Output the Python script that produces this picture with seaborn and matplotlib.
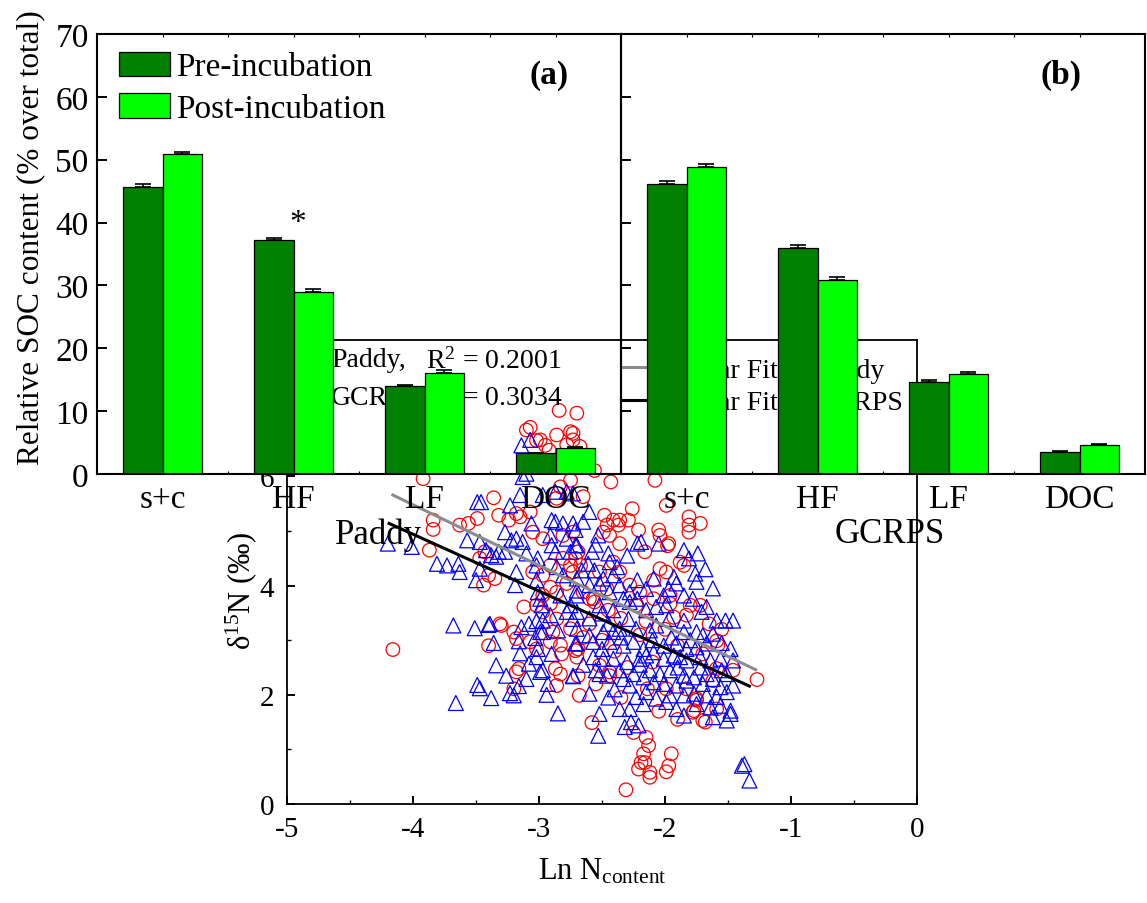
import matplotlib
matplotlib.use("Agg")
import matplotlib.pyplot as plt
import pandas as pd
import seaborn as sns
from matplotlib.ticker import MultipleLocator, FixedLocator

# ---------------- bar chart data (relative SOC content, % of total) ----------------
fractions = ["s+c", "HF", "LF", "DOC"]
stages = ["Pre-incubation", "Post-incubation"]

paddy_pre = [45.7, 37.2, 14.0, 3.3]
paddy_pre_se = [0.5, 0.4, 0.2, 0.1]
paddy_post = [50.9, 29.0, 16.1, 4.2]
paddy_post_se = [0.4, 0.4, 0.4, 0.15]

gcrps_pre = [46.1, 35.9, 14.6, 3.55]
gcrps_pre_se = [0.5, 0.5, 0.3, 0.12]
gcrps_post = [48.8, 30.8, 15.9, 4.6]
gcrps_post_se = [0.5, 0.5, 0.3, 0.2]

# ---------------- scatter data (Ln N content vs delta 15N) ----------------
paddy_r2 = 0.2001
gcrps_r2 = 0.3034
paddy_fit_x = [-4.16, -1.28]
paddy_fit_y = [5.66, 2.46]
gcrps_fit_x = [-4.19, -1.33]
gcrps_fit_y = [5.14, 2.16]

paddy_points = [
    (-4.16, 2.83),
    (-3.92, 5.96), (-3.84, 5.20), (-3.84, 5.03), (-3.87, 4.65),
    (-3.63, 5.11), (-3.56, 5.14), (-3.49, 5.23), (-3.36, 5.61), (-3.32, 5.29),
    (-3.24, 5.20), (-3.18, 5.32), (-3.15, 5.26), (-3.07, 5.35),
    (-3.07, 6.90), (-3.10, 6.85), (-2.99, 6.67), (-3.02, 6.66), (-2.95, 6.57), (-2.92, 6.48),
    (-2.84, 7.21), (-2.86, 6.76), (-2.75, 6.82), (-2.73, 6.67), (-2.78, 6.58), (-2.70, 7.16),
    (-2.675, 6.55), (-2.73, 6.79),
    (-2.56, 6.11), (-2.43, 5.90), (-2.08, 5.93),
    (-2.75, 5.93), (-2.83, 5.81), (-2.86, 5.60), (-2.65, 5.63),
    (-3.47, 4.50), (-3.43, 4.62), (-3.40, 4.19), (-3.35, 4.13), (-3.44, 4.01),
    (-3.05, 4.25), (-2.97, 4.19), (-2.91, 4.37), (-2.81, 4.50), (-2.75, 4.37), (-2.73, 4.25),
    (-2.69, 4.62), (-2.91, 3.97), (-2.86, 3.88), (-2.78, 4.04), (-3.05, 4.98), (-2.97, 4.86),
    (-2.73, 4.98), (-2.81, 4.92), (-3.02, 3.64), (-2.97, 3.82),
    (-2.26, 5.41), (-2.48, 5.29), (-2.41, 5.20), (-2.36, 5.20), (-2.29, 5.20), (-2.46, 5.11),
    (-2.49, 4.98), (-2.37, 5.11), (-2.44, 4.92), (-2.36, 4.77), (-2.21, 5.02), (-2.16, 4.62),
    (-2.05, 5.02), (-2.04, 4.92), (-1.97, 4.77), (-1.99, 5.47), (-1.81, 5.26), (-1.81, 5.11),
    (-1.81, 4.98), (-1.72, 5.14), (-1.98, 4.73),
    (-1.88, 4.43), (-1.85, 4.37), (-2.04, 4.31), (-1.99, 4.25), (-2.09, 4.10),
    (-2.71, 4.50), (-2.67, 4.37), (-2.52, 4.25), (-2.41, 4.43), (-2.36, 4.25), (-2.28, 4.01),
    (-2.46, 3.94), (-2.20, 3.88), (-2.09, 3.76), (-1.96, 3.82), (-2.65, 3.88), (-2.57, 3.76),
    (-3.31, 3.30), (-3.30, 3.27), (-3.40, 2.90), (-3.12, 3.61), (-3.20, 3.15), (-3.18, 3.03),
    (-3.16, 2.48), (-3.18, 2.42), (-3.07, 2.97), (-3.02, 2.84), (-2.91, 2.97), (-2.83, 2.91),
    (-2.82, 2.75), (-2.87, 2.48), (-2.83, 2.38), (-2.86, 2.17), (-2.97, 3.52), (-2.86, 3.39),
    (-2.75, 3.21), (-2.89, 3.15), (-3.20, 2.11), (-2.68, 1.99), (-2.70, 2.69), (-2.69, 2.84),
    (-2.91, 3.67),
    (-1.27, 2.28), (-2.58, 1.49), (-2.69, 2.35), (-2.71, 2.81), (-2.52, 2.54), (-2.44, 2.35),
    (-2.44, 2.42), (-2.25, 1.31), (-2.15, 1.22), (-2.13, 1.07), (-2.17, 0.92), (-2.19, 0.76),
    (-2.21, 0.64), (-2.16, 0.76), (-2.12, 0.58), (-2.12, 0.49), (-1.95, 0.92), (-1.97, 0.70),
    (-1.99, 0.59), (-2.31, 0.26),
    (-1.70, 1.53), (-1.78, 1.68), (-1.75, 1.90), (-1.59, 2.99), (-1.58, 2.91), (-1.46, 2.45),
    (-1.59, 2.48), (-1.80, 3.64), (-1.72, 3.64), (-1.93, 3.42), (-1.83, 3.46), (-2.60, 3.76),
    (-2.56, 3.70), (-2.23, 3.64), (-1.96, 3.67),
    (-2.14, 2.11), (-1.99, 2.11), (-1.83, 2.11), (-1.75, 1.93), (-1.59, 1.74), (-1.62, 2.26),
    (-1.77, 1.71), (-1.68, 1.50),
    (-2.60, 3.30), (-2.50, 3.00), (-2.35, 3.40), (-2.20, 3.10), (-2.00, 3.20), (-1.90, 2.90),
    (-2.40, 2.80), (-2.30, 2.50), (-2.10, 2.60), (-1.70, 2.75), (-1.55, 3.20), (-2.65, 3.05),
    (-2.55, 2.20), (-2.35, 1.95), (-2.05, 1.70), (-1.90, 1.55), (-1.65, 3.30), (-2.45, 3.55),
    (-2.15, 3.35),
]

gcrps_points = [
    (-4.20, 4.77), (-4.01, 4.71),
    (-3.49, 5.53), (-3.46, 5.53), (-3.23, 5.47), (-3.14, 6.57), (-3.07, 6.67), (-3.13, 5.99),
    (-3.10, 6.05), (-3.15, 5.66), (-2.97, 5.66), (-2.87, 5.72), (-2.78, 5.72),
    (-2.90, 5.20), (-2.87, 5.17), (-2.81, 5.14), (-3.06, 5.14), (-3.27, 4.98), (-3.18, 4.86),
    (-3.22, 4.83), (-3.57, 4.83), (-3.47, 4.80), (-3.42, 4.65), (-3.32, 4.62), (-3.38, 4.56),
    (-3.34, 4.53), (-3.27, 4.62),
    (-3.81, 4.40), (-3.73, 4.37), (-3.64, 4.40), (-3.63, 4.25), (-3.47, 4.31), (-3.50, 4.10),
    (-3.13, 4.80), (-3.10, 4.59), (-3.01, 4.50), (-3.02, 4.37), (-2.91, 4.92), (-2.90, 4.74),
    (-2.87, 4.62), (-2.78, 4.86), (-2.71, 4.74), (-3.18, 4.25), (-3.19, 4.01), (-3.02, 4.10),
    (-3.01, 3.88), (-2.99, 3.76), (-2.86, 4.34), (-2.81, 4.19), (-2.83, 3.82), (-2.70, 3.91),
    (-2.75, 3.64),
    (-2.73, 5.69), (-2.73, 5.14), (-2.65, 5.17), (-2.71, 5.02), (-2.53, 4.92), (-2.22, 4.77),
    (-2.19, 4.80), (-2.05, 4.77), (-2.58, 4.62), (-2.45, 4.59), (-2.44, 4.43), (-2.70, 4.74),
    (-2.75, 4.62), (-2.61, 4.40), (-2.56, 4.28), (-2.66, 4.28), (-2.38, 4.34), (-2.41, 4.19),
    (-2.49, 4.13), (-1.81, 4.50), (-1.74, 4.59), (-1.76, 4.22), (-1.75, 4.07), (-1.93, 4.16),
    (-1.91, 4.04), (-1.97, 3.94), (-2.01, 3.82), (-2.09, 4.13), (-2.22, 4.10), (-2.15, 3.94),
    (-2.28, 3.88), (-2.22, 3.76), (-2.36, 4.01), (-2.33, 3.76), (-2.44, 3.88), (-2.52, 4.04),
    (-2.60, 4.01), (-2.70, 4.13), (-2.70, 3.82), (-1.85, 3.82), (-1.78, 3.76), (-1.67, 3.61),
    (-3.68, 3.27), (-3.51, 3.22), (-3.40, 3.28), (-3.39, 3.30), (-3.36, 2.95), (-3.14, 3.24),
    (-3.08, 3.30), (-3.02, 3.35), (-2.97, 3.36), (-3.16, 2.98), (-3.03, 3.04), (-3.15, 2.76),
    (-3.01, 2.84), (-3.02, 2.69), (-2.90, 2.75), (-3.08, 2.57), (-2.99, 2.42), (-2.97, 2.45),
    (-3.34, 2.54), (-3.26, 2.35), (-3.10, 2.29), (-3.49, 2.18), (-3.47, 2.12), (-3.16, 2.16),
    (-3.23, 2.03), (-3.20, 1.99), (-3.38, 1.94), (-3.66, 1.85), (-2.93, 2.20), (-2.94, 2.00),
    (-2.85, 1.66), (-2.73, 2.34), (-2.98, 3.64), (-2.91, 3.46), (-2.85, 3.18), (-2.78, 3.52),
    (-2.73, 3.39), (-2.70, 2.94), (-2.99, 3.15), (-2.97, 3.15),
    (-2.70, 3.52), (-2.52, 3.64), (-2.50, 3.49), (-2.41, 3.55), (-2.28, 3.70), (-2.29, 3.39),
    (-2.15, 3.55), (-2.07, 3.61), (-1.99, 3.64), (-1.97, 3.39), (-1.85, 3.36), (-1.71, 3.52),
    (-1.59, 3.36), (-1.52, 3.36), (-1.46, 3.36),
    (-2.70, 3.21), (-2.60, 3.09), (-2.49, 3.15), (-2.41, 3.15), (-2.36, 3.21), (-2.23, 3.21),
    (-2.12, 3.18), (-2.07, 3.27), (-1.85, 3.15), (-1.75, 3.15), (-1.70, 3.09),
    (-2.71, 2.94), (-2.57, 2.97), (-2.50, 2.84), (-2.44, 2.97), (-2.33, 2.90), (-2.25, 2.97),
    (-2.17, 2.84), (-2.09, 2.78), (-2.01, 2.90), (-1.91, 2.94), (-1.83, 2.84), (-1.75, 2.87),
    (-1.67, 2.94), (-1.48, 2.84),
    (-2.57, 2.69), (-2.49, 2.66), (-2.41, 2.66), (-2.30, 2.60), (-2.20, 2.66), (-2.15, 2.72),
    (-2.01, 2.66), (-1.93, 2.72), (-1.88, 2.69), (-1.83, 2.63), (-1.72, 2.69), (-1.64, 2.63),
    (-1.56, 2.66), (-1.46, 2.63),
    (-2.73, 2.35), (-2.52, 2.38), (-2.46, 2.35), (-2.36, 2.45), (-2.33, 2.29), (-2.25, 2.38),
    (-2.17, 2.32), (-2.12, 2.45), (-2.04, 2.38), (-1.96, 2.45), (-1.85, 2.35), (-1.77, 2.32),
    (-1.67, 2.38), (-1.62, 2.29), (-1.51, 2.38),
    (-2.28, 2.17), (-2.09, 2.23), (-2.01, 2.20), (-1.91, 2.17), (-1.83, 2.26), (-1.70, 2.20),
    (-1.56, 2.14), (-1.46, 2.17),
    (-2.60, 2.02), (-2.23, 1.96), (-2.15, 2.05), (-2.07, 1.93), (-1.96, 1.99), (-1.85, 1.99),
    (-1.77, 2.02), (-1.67, 1.99), (-1.59, 1.96), (-1.51, 2.05),
    (-2.36, 1.74), (-2.28, 1.74), (-2.17, 1.83), (-1.99, 1.87), (-1.91, 1.74), (-1.85, 1.62),
    (-1.75, 1.83), (-1.64, 1.77), (-1.56, 1.80), (-1.48, 1.71), (-1.62, 1.59), (-1.51, 1.53),
    (-1.48, 1.65),
    (-2.52, 1.65), (-2.32, 1.41), (-2.27, 1.50), (-2.21, 1.44), (-2.53, 1.25),
    (-1.39, 0.70), (-1.37, 0.73), (-1.33, 0.43),
    (-2.60, 3.40), (-2.45, 3.30), (-2.35, 3.05), (-2.10, 3.00), (-1.95, 3.05), (-1.80, 3.00),
    (-1.62, 3.12), (-1.55, 2.95), (-2.65, 2.55), (-2.55, 2.45), (-2.40, 2.10), (-2.45, 1.95),
    (-1.72, 2.50), (-1.55, 2.45), (-1.90, 2.50), (-2.20, 2.55), (-1.62, 3.95), (-1.68, 4.30),
    (-1.85, 4.65), (-2.30, 4.55), (-2.55, 4.75), (-2.60, 5.35),
]

# ---------------- style ----------------
plt.rcParams.update({
    "font.family": ["Liberation Serif", "DejaVu Serif"],
    "mathtext.fontset": "custom",
    "mathtext.rm": "Liberation Serif",
    "mathtext.it": "Liberation Serif:italic",
    "mathtext.bf": "Liberation Serif:bold",
    "axes.unicode_minus": False,
})

W, H = 1147, 904
fig = plt.figure(figsize=(W / 100, H / 100), dpi=100)
fig.patch.set_facecolor("white")


def box(left, top, right, bottom):
    """Axes rectangle from pixel edges measured from the top-left corner."""
    return [left / W, 1 - bottom / H, (right - left) / W, (bottom - top) / H]


# ---------------- scatter panel (drawn underneath) ----------------
ax_s = fig.add_axes(box(287, 341, 917, 805))
df_paddy = pd.DataFrame(paddy_points, columns=["ln_n", "d15n"])
df_gcrps = pd.DataFrame(gcrps_points, columns=["ln_n", "d15n"])

sns.scatterplot(data=df_paddy, x="ln_n", y="d15n", marker="o", s=95,
                facecolor="none", edgecolor="#FF0000", linewidth=0.9, ax=ax_s, zorder=2)
sns.scatterplot(data=df_gcrps, x="ln_n", y="d15n", marker="^", s=115,
                facecolor="none", edgecolor="#0000FF", linewidth=0.9, ax=ax_s, zorder=3)
sns.lineplot(x=paddy_fit_x, y=paddy_fit_y, color="#8C8C8C", linewidth=2.2, ax=ax_s, zorder=4)
line_paddy = ax_s.lines[-1]
sns.lineplot(x=gcrps_fit_x, y=gcrps_fit_y, color="black", linewidth=2.2, ax=ax_s, zorder=5)
line_gcrps = ax_s.lines[-1]

ax_s.set_xlim(-5, 0)
ax_s.set_ylim(0, 8.5)
ax_s.xaxis.set_major_locator(MultipleLocator(1))
ax_s.xaxis.set_minor_locator(MultipleLocator(0.5))
ax_s.yaxis.set_major_locator(MultipleLocator(2))
ax_s.yaxis.set_minor_locator(MultipleLocator(1))
ax_s.tick_params(which="major", direction="in", length=6, width=1.4, labelsize=21)
ax_s.tick_params(which="minor", direction="in", length=3, width=1.0)
ax_s.tick_params(axis="x", which="major", pad=9)
ax_s.tick_params(axis="y", which="major", pad=9)
for sp in ax_s.spines.values():
    sp.set_linewidth(1.3)

ax_s.set_xlabel("Ln N$_{\\mathregular{content}}$", fontsize=22)
ax_s.xaxis.set_label_coords(0.5, -0.112)
ax_s.set_ylabel("\u03b4$^{\\mathregular{15}}$N (\u2030)", fontsize=22)
ax_s.yaxis.set_label_coords(-0.045, 0.46)

ax_s.text(0.070, 0.957, "Paddy,", transform=ax_s.transAxes, fontsize=20, va="center")
ax_s.text(0.221, 0.957, f"R$^{{\\mathregular{{2}}}}$ = {paddy_r2:.4f}",
          transform=ax_s.transAxes, fontsize=20, va="center")
ax_s.text(0.070, 0.877, "GCRPS,", transform=ax_s.transAxes, fontsize=20, va="center")
ax_s.text(0.221, 0.877, f"R$^{{\\mathregular{{2}}}}$ = {gcrps_r2:.4f}",
          transform=ax_s.transAxes, fontsize=20, va="center")
ax_s.text(0.076, 0.582, "Paddy", transform=ax_s.transAxes, fontsize=25, va="center")
ax_s.text(0.870, 0.582, "GCRPS", transform=ax_s.transAxes, fontsize=25, va="center")

ax_s.legend(handles=[line_paddy, line_gcrps],
            labels=["Linear Fit of Paddy", "Linear Fit of GCRPS"],
            loc="upper left", bbox_to_anchor=(0.530, 0.962), frameon=False,
            fontsize=20, handlelength=1.4, handletextpad=0.25, labelspacing=0.25,
            borderpad=0, borderaxespad=0)

# ---------------- bar panels (drawn on top, transparent background) ----------------
panels = [
    ("(a)", paddy_pre, paddy_pre_se, paddy_post, paddy_post_se, box(97, 35, 621, 475)),
    ("(b)", gcrps_pre, gcrps_pre_se, gcrps_post, gcrps_post_se, box(621, 35, 1145, 475)),
]
bar_axes = []
for tag, pre, pre_se, post, post_se, rect in panels:
    ax = fig.add_axes(rect)
    ax.set_facecolor("none")
    df = pd.DataFrame({
        "fraction": fractions * 2,
        "stage": [stages[0]] * 4 + [stages[1]] * 4,
        "value": pre + post,
    })
    sns.barplot(data=df, x="fraction", y="value", hue="stage", order=fractions,
                hue_order=stages, palette=["#007F00", "#00FF00"], saturation=1,
                width=0.6, gap=0, edgecolor="black", linewidth=0.9,
                errorbar=None, legend=False, ax=ax, zorder=2)
    for container, se_vals in zip(ax.containers, [pre_se, post_se]):
        for patch, se in zip(container.patches, se_vals):
            xc = patch.get_x() + patch.get_width() / 2
            ax.errorbar(xc, patch.get_height(), yerr=[[0], [se]], fmt="none",
                        ecolor="black", elinewidth=1.2, capsize=6, capthick=1.2, zorder=3)

    ax.set_xlim(-0.5, 3.5)
    ax.set_ylim(0, 70)
    ax.set_xlabel("")
    ax.set_ylabel("")
    ax.yaxis.set_major_locator(MultipleLocator(10))
    ax.xaxis.set_minor_locator(FixedLocator([0.5, 1.5, 2.5]))
    ax.tick_params(axis="y", which="major", direction="in", length=7, width=1.4,
                   labelsize=24, pad=6)
    ax.tick_params(axis="x", which="both", direction="in", length=2.5, width=0.8,
                   top=True, labelsize=24, pad=7)
    for sp in ax.spines.values():
        sp.set_linewidth(1.5)
    ax.text(0.862 if tag == "(a)" else 0.840, 0.909, tag, transform=ax.transAxes,
            fontsize=24, fontweight="bold", ha="center", va="center")
    bar_axes.append(ax)

ax_a, ax_b = bar_axes
ax_b.tick_params(axis="y", labelleft=False)

ax_a.set_ylabel("Relative SOC content (% over total)", fontsize=22.5)
ax_a.yaxis.set_label_coords(-0.098, 0.54)

ax_a.legend(ax_a.containers, stages, loc="upper left", bbox_to_anchor=(0.042, 0.96),
            frameon=False, fontsize=24, handlelength=1.53, handleheight=0.75,
            handletextpad=0.18, labelspacing=0.32, borderpad=0, borderaxespad=0)

# significance mark above the HF pair in panel (a)
ax_a.text(1.03, 38.6, "*", ha="center", va="baseline", fontsize=24)

fig.savefig("out.png", dpi=100, facecolor="white")
